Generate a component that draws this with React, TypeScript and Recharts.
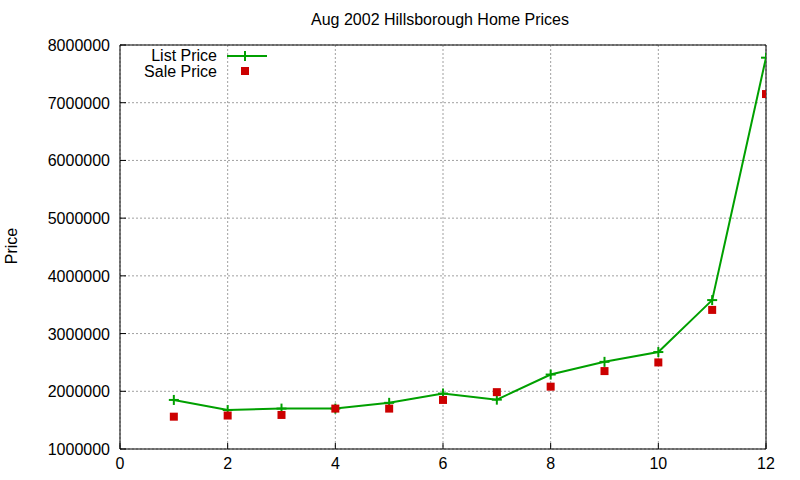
import React from "react";
import { ComposedChart, Line, Scatter, XAxis, YAxis, CartesianGrid, ReferenceArea } from "recharts";

const homeIndex = [1, 2, 3, 4, 5, 6, 7, 8, 9, 10, 11, 12];
const listPrice = [1850000, 1675000, 1700000, 1700000, 1800000, 1960000, 1855000, 2290000, 2510000, 2680000, 3580000, 7780000];
const salePrice = [1560000, 1580000, 1590000, 1700000, 1700000, 1850000, 1985000, 2080000, 2350000, 2500000, 3410000, 7150000];
const xTicks = [0, 2, 4, 6, 8, 10, 12];
const yTicks = [1000000, 2000000, 3000000, 4000000, 5000000, 6000000, 7000000, 8000000];

const GREEN = "#00a000";
const RED = "#cc0000";
const FONT = "'Liberation Sans', Arial, sans-serif";
const FS = 16;

const data = homeIndex.map((x, i) => ({ x, list: listPrice[i], sale: salePrice[i] }));

const PlusDot = (props: any) => {
  const { cx, cy } = props;
  if (cx == null || cy == null) return null;
  return (
    <g>
      <line x1={cx - 5} x2={cx + 5} y1={cy} y2={cy} stroke={GREEN} strokeWidth={2} />
      <line x1={cx} x2={cx} y1={cy - 5} y2={cy + 5} stroke={GREEN} strokeWidth={2} />
    </g>
  );
};

const SquareDot = (props: any) => {
  const { cx, cy } = props;
  if (cx == null || cy == null) return null;
  return <rect x={cx - 4} y={cy - 4} width={8} height={8} fill={RED} />;
};

// ticks point inward, like gnuplot
const LeftTick = (props: any) => {
  const { x, y, payload } = props;
  return (
    <g>
      <line x1={x} x2={x + 6} y1={y} y2={y} stroke="#000" />
      <text x={x - 10} y={y} dy={6} textAnchor="end" fontSize={FS} fontFamily={FONT} fill="#000">{payload.value}</text>
    </g>
  );
};
const RightTick = (props: any) => {
  const { x, y } = props;
  return <line x1={x} x2={x - 6} y1={y} y2={y} stroke="#000" />;
};
const BottomTick = (props: any) => {
  const { x, y, payload } = props;
  return (
    <g>
      <line x1={x} x2={x} y1={y} y2={y - 6} stroke="#000" />
      <text x={x} y={y + 20} textAnchor="middle" fontSize={FS} fontFamily={FONT} fill="#000">{payload.value}</text>
    </g>
  );
};
const TopTick = (props: any) => {
  const { x, y } = props;
  return <line x1={x} x2={x} y1={y} y2={y + 6} stroke="#000" />;
};

export default function App() {
  return (
    <div style={{ position: "absolute", left: 0, top: 0, width: 800, height: 480, background: "#fff" }}>
      <ComposedChart width={800} height={480} data={data} margin={{ top: 45, right: 34, bottom: 0, left: 10 }}>
        <CartesianGrid xAxisId="b" yAxisId="l" stroke="#a0a0a0" strokeDasharray="2 2" />
        <XAxis xAxisId="b" dataKey="x" type="number" domain={[0, 12]} ticks={xTicks} allowDataOverflow
          height={31} axisLine={false} tickLine={false} tickSize={0} tickMargin={0} tick={BottomTick} interval={0} />
        <XAxis xAxisId="t" orientation="top" dataKey="x" type="number" domain={[0, 12]} ticks={xTicks} allowDataOverflow
          height={0} axisLine={false} tickLine={false} tickSize={0} tickMargin={0} tick={TopTick} interval={0} />
        <YAxis yAxisId="l" type="number" domain={[1000000, 8000000]} ticks={yTicks} allowDataOverflow
          width={110} axisLine={false} tickLine={false} tickSize={0} tickMargin={0} tick={LeftTick} interval={0} />
        <YAxis yAxisId="r" orientation="right" type="number" domain={[1000000, 8000000]} ticks={yTicks} allowDataOverflow
          width={0} axisLine={false} tickLine={false} tickSize={0} tickMargin={0} tick={RightTick} interval={0} />
        <ReferenceArea xAxisId="b" yAxisId="l" x1={0} x2={12} y1={1000000} y2={8000000} fill="none" stroke="#000" strokeWidth={1} ifOverflow="visible" />
        <Line xAxisId="b" yAxisId="l" dataKey="list" stroke={GREEN} strokeWidth={2} dot={PlusDot} activeDot={false} isAnimationActive={false} />
        <Scatter xAxisId="b" yAxisId="l" dataKey="sale" shape={SquareDot} isAnimationActive={false} />
      </ComposedChart>
      <div style={{ position: "absolute", left: 0, width: 880, top: 11, textAlign: "center", fontSize: FS, fontFamily: FONT }}>
        Aug 2002 Hillsborough Home Prices
      </div>
      <div style={{ position: "absolute", left: 12, top: 246, transform: "translate(-50%, -50%) rotate(-90deg)", fontSize: FS, fontFamily: FONT }}>
        Price
      </div>
      <svg width={160} height={40} style={{ position: "absolute", left: 120, top: 47 }}>
        <text x={97} y={14} textAnchor="end" fontSize={FS} fontFamily={FONT} fill="#000">List Price</text>
        <line x1={107} x2={147} y1={9} y2={9} stroke={GREEN} strokeWidth={2} />
        <line x1={120} x2={130} y1={9} y2={9} stroke={GREEN} strokeWidth={2} />
        <line x1={125} x2={125} y1={4} y2={14} stroke={GREEN} strokeWidth={2} />
        <text x={97} y={30} textAnchor="end" fontSize={FS} fontFamily={FONT} fill="#000">Sale Price</text>
        <rect x={121} y={20} width={8} height={8} fill={RED} />
      </svg>
    </div>
  );
}
